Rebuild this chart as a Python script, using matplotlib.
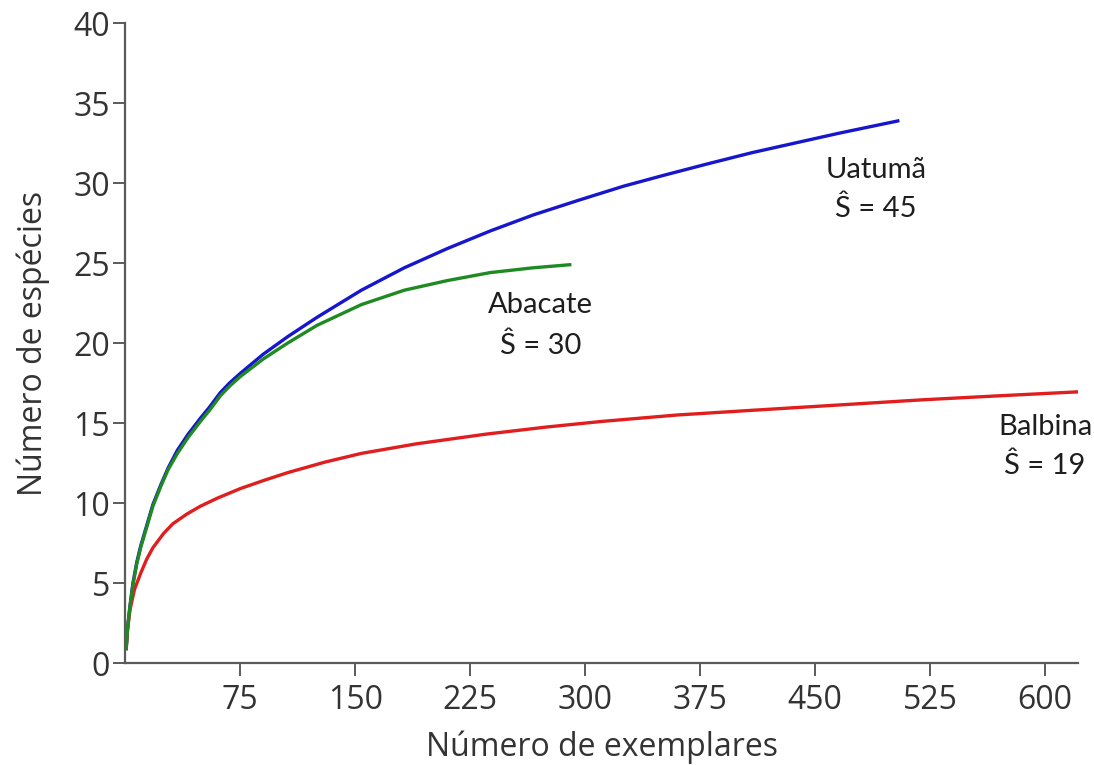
import matplotlib
matplotlib.use("Agg")
import matplotlib.pyplot as plt

# curvas de rarefacao
uatuma_x = [0.5, 1.5, 3, 5, 7.5, 10, 14, 18, 23, 28, 34, 41, 49, 55, 62, 68, 75, 90, 106, 125,
            154, 182, 210, 238, 266, 295, 325, 352, 380, 409, 437, 465, 505]
uatuma_y = [0.8, 2.2, 3.5, 5.0, 6.3, 7.3, 8.6, 9.9, 11.1, 12.2, 13.3, 14.3, 15.3, 16.0, 16.9, 17.5,
            18.1, 19.3, 20.4, 21.6, 23.3, 24.7, 25.9, 27.0, 28.0, 28.9, 29.8, 30.5, 31.2, 31.9,
            32.5, 33.1, 33.9]

abacate_x = [0.5, 1.5, 3, 5, 7.5, 10, 14, 18, 23, 28, 34, 41, 49, 55, 62, 68, 75, 90, 106, 125,
             154, 182, 210, 238, 266, 291]
abacate_y = [0.8, 2.2, 3.5, 4.9, 6.2, 7.2, 8.5, 9.8, 11.0, 12.1, 13.1, 14.1, 15.1, 15.8, 16.7,
             17.3, 17.9, 19.0, 20.0, 21.1, 22.4, 23.3, 23.9, 24.4, 24.7, 24.9]

balbina_x = [0.5, 1.5, 3, 6, 10, 14, 18, 25, 31, 40, 49, 60, 75, 90, 106, 130, 154, 190, 235,
             275, 311, 360, 410, 461, 520, 570, 622]
balbina_y = [0.8, 2.1, 3.3, 4.6, 5.6, 6.5, 7.2, 8.1, 8.7, 9.3, 9.8, 10.3, 10.9, 11.4, 11.9, 12.55,
             13.1, 13.7, 14.3, 14.75, 15.1, 15.5, 15.8, 16.1, 16.45, 16.7, 16.95]

x_ticks = [75, 150, 225, 300, 375, 450, 525, 600]
y_ticks = [0, 5, 10, 15, 20, 25, 30, 35, 40]

labels = ["Uatumã", "Abacate", "Balbina"]
estimates = ["Ŝ = 45", "Ŝ = 30", "Ŝ = 19"]

plt.rcParams['font.family'] = ['Open Sans', 'DejaVu Sans']

fig = plt.figure(figsize=(10.94, 7.65), dpi=100)
ax = fig.add_axes([0.11453, 0.13333, 0.87084, 0.83660])

ax.plot(uatuma_x, uatuma_y, color="#1616cc", lw=2.4, solid_capstyle="butt")
ax.plot(balbina_x, balbina_y, color="#e01e1e", lw=2.4, solid_capstyle="butt")
ax.plot(abacate_x, abacate_y, color="#1f8a22", lw=2.4, solid_capstyle="butt")

ax.set_xlim(0, 621.5)
ax.set_ylim(0, 40)
ax.set_xticks(x_ticks)
ax.set_yticks(y_ticks)

for s in ["top", "right"]:
    ax.spines[s].set_visible(False)
for s in ["left", "bottom"]:
    ax.spines[s].set_color("#5a5a5a")
    ax.spines[s].set_linewidth(1.6)

ax.tick_params(axis="both", direction="out", length=9, width=1.4, color="#5a5a5a",
               labelsize=23, labelcolor="#333333")
ax.tick_params(axis="x", pad=6)
ax.tick_params(axis="y", pad=2)

ax.set_xlabel("Número de exemplares", fontsize=23, color="#333333", labelpad=10)
ax.set_ylabel("Número de espécies", fontsize=23, color="#333333", labelpad=17)

# rotulos das curvas
label_pos = [(489.6, 30.8, 28.4), (271, 22.4, 19.8), (600, 14.75, 12.3)]
for name, est, (lx, ly1, ly2) in zip(labels, estimates, label_pos):
    ax.text(lx, ly1, name, ha="center", va="center", fontsize=21,
            family=["Lato", "DejaVu Sans"], color="#1e1e1e")
    ax.text(lx, ly2, est, ha="center", va="center", fontsize=21,
            family=["Lato", "DejaVu Sans"], color="#1e1e1e")

fig.savefig("out.png", dpi=100)
